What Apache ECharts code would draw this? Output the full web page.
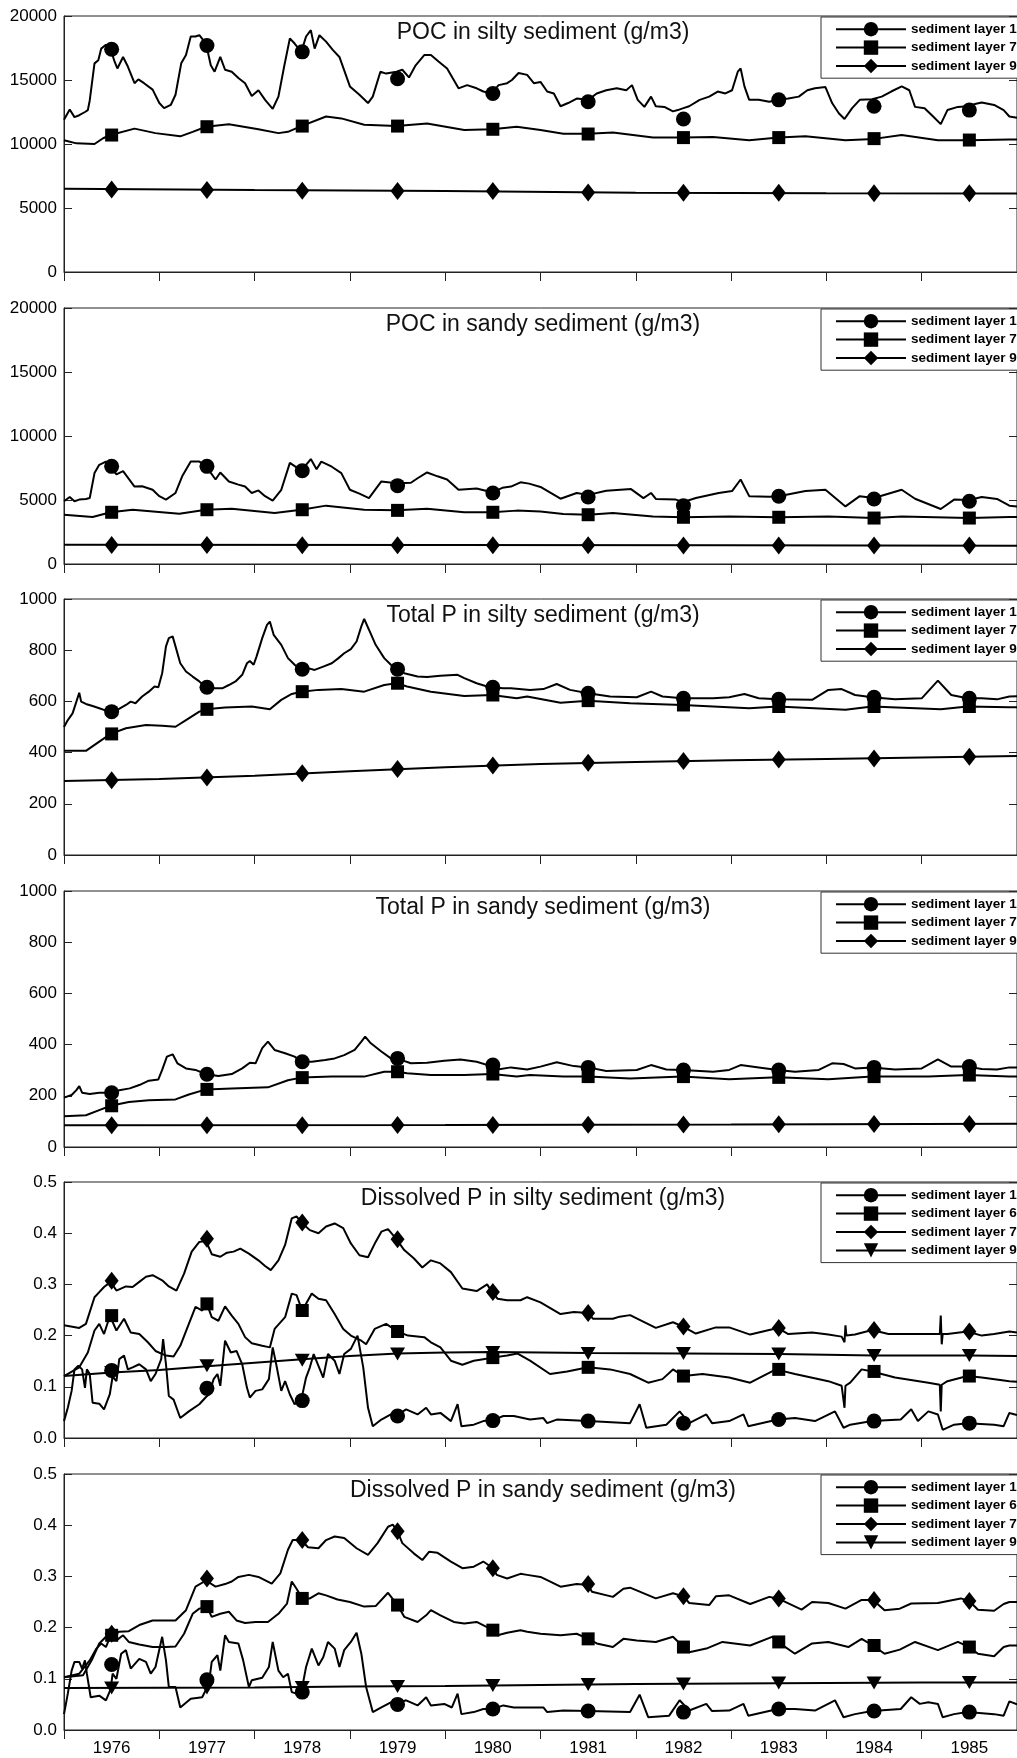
<!DOCTYPE html>
<html><head><meta charset="utf-8">
<script src="https://cdn.jsdelivr.net/npm/echarts@6/dist/echarts.min.js"></script>
<style>html,body{margin:0;padding:0;background:#fff}#c{width:1017px;height:1758px}</style>
</head><body><div id="c"></div><script>
// ---------------- DATA ----------------
const yearLabels = ['1976','1977','1978','1979','1980','1981','1982','1983','1984','1985'];
const markerYears = [1976.5,1977.5,1978.5,1979.5,1980.5,1981.5,1982.5,1983.5,1984.5,1985.5];
const titles = ['POC in silty sediment (g/m3)','POC in sandy sediment (g/m3)','Total P in silty sediment (g/m3)','Total P in sandy sediment (g/m3)','Dissolved P in silty sediment (g/m3)','Dissolved P in sandy sediment (g/m3)'];
const namesA = ['sediment layer 1','sediment layer 7','sediment layer 9'];
const namesB = ['sediment layer 1','sediment layer 6','sediment layer 7','sediment layer 9'];

// POC silty
const pocSiltyL1 = [[1976.00,11900],[1976.06,12700],[1976.11,12100],[1976.16,12250],[1976.22,12500],[1976.25,12650],[1976.27,13400],[1976.32,16300],[1976.36,16550],[1976.39,17450],[1976.44,17750],[1976.49,17400],[1976.53,16450],[1976.56,15900],[1976.62,16800],[1976.67,16050],[1976.74,14750],[1976.78,15050],[1976.84,14750],[1976.93,14250],[1977.00,13200],[1977.05,12800],[1977.12,13050],[1977.17,13850],[1977.23,16300],[1977.28,16950],[1977.33,18400],[1977.38,18400],[1977.42,18500],[1977.49,17850],[1977.54,16150],[1977.58,15650],[1977.64,16800],[1977.69,15800],[1977.76,15650],[1977.83,15150],[1977.90,14750],[1977.97,13750],[1978.04,14200],[1978.11,13450],[1978.19,12750],[1978.25,13700],[1978.31,16050],[1978.37,18250],[1978.42,17850],[1978.49,17200],[1978.54,18400],[1978.59,18900],[1978.63,17450],[1978.68,18500],[1978.75,18000],[1978.82,17350],[1978.89,16800],[1979.00,14500],[1979.10,13850],[1979.19,13200],[1979.24,13700],[1979.32,15650],[1979.38,15500],[1979.49,15650],[1979.55,15800],[1979.62,15200],[1979.69,16150],[1979.78,16950],[1979.85,16950],[1979.93,16450],[1980.02,15900],[1980.09,15000],[1980.14,14350],[1980.23,14600],[1980.33,14350],[1980.40,14100],[1980.49,13950],[1980.56,14600],[1980.65,14750],[1980.70,15000],[1980.77,15550],[1980.86,15400],[1980.93,14750],[1981.00,14850],[1981.07,14100],[1981.14,13950],[1981.21,12950],[1981.29,13200],[1981.38,13550],[1981.50,13450],[1981.59,13950],[1981.69,14200],[1981.80,14350],[1981.90,14200],[1981.96,14600],[1982.02,13450],[1982.09,12900],[1982.16,13700],[1982.21,12950],[1982.30,12900],[1982.39,12550],[1982.44,12650],[1982.50,12800],[1982.56,12950],[1982.67,13450],[1982.77,13700],[1982.86,14100],[1982.94,13950],[1983.01,14200],[1983.07,15650],[1983.10,15900],[1983.14,14500],[1983.19,13450],[1983.29,13450],[1983.40,13300],[1983.49,13450],[1983.60,13550],[1983.71,13700],[1983.80,14200],[1983.88,14350],[1983.99,14450],[1984.06,13200],[1984.13,12400],[1984.19,11950],[1984.27,12800],[1984.35,13450],[1984.48,13500],[1984.58,13700],[1984.68,14100],[1984.79,14500],[1984.87,14200],[1984.93,12900],[1985.03,12800],[1985.12,12150],[1985.20,11550],[1985.27,12650],[1985.38,12900],[1985.48,12950],[1985.57,13150],[1985.63,13250],[1985.76,13050],[1985.86,12650],[1985.92,12150],[1986.00,12050]];
const pocSiltyL1Marks = [17400,17700,17200,15100,13950,13300,11950,13450,12950,12650];
const pocSiltyL7 = [[1976.00,10300],[1976.13,10050],[1976.32,10000],[1976.41,10450],[1976.49,10700],[1976.74,11200],[1976.96,10850],[1977.22,10600],[1977.35,10950],[1977.49,11350],[1977.73,11550],[1978.04,11150],[1978.25,10850],[1978.35,10950],[1978.49,11400],[1978.75,12150],[1978.91,12000],[1979.15,11500],[1979.49,11400],[1979.81,11600],[1980.20,11100],[1980.49,11150],[1980.75,11350],[1981.00,11100],[1981.24,10800],[1981.50,10800],[1981.76,10900],[1982.18,10500],[1982.50,10500],[1982.81,10550],[1983.19,10300],[1983.50,10500],[1983.78,10600],[1984.20,10300],[1984.50,10400],[1984.79,10700],[1985.17,10300],[1985.50,10300],[1985.92,10350],[1986.00,10350]];
const pocSiltyL7Marks = [10700,11350,11400,11400,11150,10780,10500,10500,10420,10310];
const pocSiltyL9 = [[1976.00,6500],[1978.00,6400],[1980.00,6330],[1982.00,6200],[1984.00,6150],[1986.00,6130]];
const pocSiltyL9Marks = [6450,6400,6350,6330,6330,6220,6200,6200,6150,6150];

// POC sandy
const pocSandyL1 = [[1976.00,4900],[1976.06,5230],[1976.11,4900],[1976.16,5030],[1976.23,5080],[1976.27,5160],[1976.32,7100],[1976.37,7750],[1976.44,8000],[1976.49,7650],[1976.55,7000],[1976.62,7250],[1976.74,6050],[1976.82,6070],[1976.93,5800],[1977.00,5300],[1977.07,5030],[1977.17,5550],[1977.24,6850],[1977.33,8000],[1977.42,8000],[1977.49,7650],[1977.59,6600],[1977.64,7150],[1977.73,6450],[1977.83,6200],[1977.90,6050],[1977.97,5550],[1978.04,5750],[1978.11,5300],[1978.19,4950],[1978.28,5800],[1978.37,7900],[1978.49,7300],[1978.59,8200],[1978.65,7400],[1978.70,8000],[1978.81,7600],[1978.91,7100],[1979.00,5800],[1979.10,5500],[1979.20,5150],[1979.33,6450],[1979.49,6300],[1979.64,6350],[1979.71,6700],[1979.81,7150],[1979.92,6850],[1980.02,6600],[1980.14,5800],[1980.33,5900],[1980.49,5600],[1980.60,5950],[1980.69,6050],[1980.79,6380],[1980.88,6280],[1981.00,6020],[1981.21,5100],[1981.38,5550],[1981.50,5400],[1981.69,5730],[1981.95,5850],[1982.08,5150],[1982.16,5550],[1982.21,5080],[1982.42,5030],[1982.50,4850],[1982.63,5150],[1982.87,5550],[1983.01,5700],[1983.10,6600],[1983.19,5300],[1983.40,5250],[1983.50,5300],[1983.78,5700],[1983.99,5800],[1984.20,4500],[1984.35,5300],[1984.50,5150],[1984.79,5800],[1984.93,5100],[1985.20,4300],[1985.34,5030],[1985.50,5000],[1985.63,5230],[1985.79,5080],[1985.92,4560],[1986.00,4500]];
const pocSandyL1Marks = [7630,7630,7290,6120,5550,5230,4560,5290,5080,4900];
const pocSandyL7 = [[1976.00,3850],[1976.30,3670],[1976.49,4040],[1976.72,4240],[1977.21,3930],[1977.49,4240],[1977.76,4320],[1978.21,3980],[1978.49,4240],[1978.75,4560],[1979.15,4240],[1979.49,4190],[1979.81,4320],[1980.20,4040],[1980.49,4040],[1980.75,4170],[1981.00,4100],[1981.24,3910],[1981.50,3850],[1981.76,3980],[1982.18,3720],[1982.50,3650],[1982.98,3720],[1983.50,3650],[1984.02,3720],[1984.50,3600],[1984.79,3720],[1985.50,3600],[1985.92,3670],[1986.00,3670]];
const pocSandyL7Marks = [4040,4240,4240,4190,4040,3850,3650,3650,3590,3590];
const pocSandyL9 = [[1976.00,1510],[1980.00,1480],[1983.00,1460],[1986.00,1430]];
const pocSandyL9Marks = [1480,1480,1470,1470,1460,1460,1450,1450,1440,1440];

// Total P silty
const tpSiltyL1 = [[1976.00,500],[1976.04,527],[1976.09,553],[1976.13,599],[1976.16,634],[1976.18,599],[1976.23,590],[1976.30,582],[1976.37,573],[1976.44,564],[1976.49,560],[1976.56,567],[1976.65,586],[1976.70,599],[1976.75,593],[1976.82,619],[1976.89,638],[1976.95,658],[1976.99,655],[1977.03,710],[1977.07,815],[1977.10,847],[1977.14,854],[1977.17,815],[1977.22,749],[1977.28,717],[1977.35,697],[1977.42,678],[1977.49,655],[1977.57,651],[1977.66,651],[1977.73,664],[1977.80,678],[1977.87,704],[1977.92,749],[1977.95,758],[1977.99,743],[1978.02,775],[1978.08,847],[1978.13,899],[1978.16,912],[1978.20,860],[1978.28,821],[1978.35,769],[1978.42,743],[1978.49,726],[1978.56,730],[1978.63,723],[1978.72,736],[1978.81,749],[1978.88,769],[1978.94,788],[1979.01,804],[1979.07,834],[1979.12,893],[1979.15,922],[1979.20,880],[1979.27,821],[1979.36,769],[1979.43,743],[1979.49,726],[1979.57,710],[1979.71,697],[1979.81,695],[1979.95,700],[1980.13,704],[1980.20,691],[1980.33,671],[1980.44,658],[1980.49,655],[1980.61,651],[1980.69,651],[1980.89,645],[1981.03,648],[1981.17,668],[1981.31,645],[1981.50,632],[1981.73,619],[1982.01,616],[1982.16,638],[1982.28,619],[1982.49,612],[1982.81,612],[1982.98,616],[1983.14,629],[1983.29,612],[1983.49,608],[1983.85,606],[1984.02,645],[1984.16,648],[1984.30,625],[1984.48,616],[1984.72,608],[1985.00,612],[1985.17,681],[1985.31,625],[1985.48,612],[1985.63,612],[1985.79,608],[1985.92,619],[1986.00,620]];
const tpSiltyL1Marks = [560,655,726,726,655,632,612,608,616,612];
const tpSiltyL7 = [[1976.00,407],[1976.23,407],[1976.37,443],[1976.49,473],[1976.65,495],[1976.86,508],[1977.03,505],[1977.17,501],[1977.28,527],[1977.42,560],[1977.49,569],[1977.69,576],[1977.97,580],[1978.16,569],[1978.28,606],[1978.39,629],[1978.49,638],[1978.67,645],[1978.91,648],[1979.15,638],[1979.36,664],[1979.49,671],[1979.60,658],[1979.85,638],[1980.20,621],[1980.49,625],[1980.75,612],[1980.86,619],[1981.21,595],[1981.50,603],[1981.94,593],[1982.49,586],[1983.19,573],[1983.49,580],[1984.20,567],[1984.48,580],[1985.20,569],[1985.48,580],[1985.92,577],[1986.00,577]];
const tpSiltyL7Marks = [473,569,638,671,625,603,586,580,580,580];
const tpSiltyL9 = [[1976.00,289],[1977.00,297],[1978.00,310],[1979.00,327],[1980.00,343],[1981.00,355],[1982.00,363],[1983.00,370],[1984.00,375],[1985.00,381],[1986.00,387]];
const tpSiltyL9Marks = [292,303,319,336,350,360,367,373,377,384];

// Total P sandy
const tpSandyL1 = [[1976.00,193],[1976.08,203],[1976.13,222],[1976.16,238],[1976.19,212],[1976.27,207],[1976.37,212],[1976.49,212],[1976.58,222],[1976.69,229],[1976.79,242],[1976.89,259],[1976.99,264],[1977.03,301],[1977.08,353],[1977.14,362],[1977.19,327],[1977.28,307],[1977.38,301],[1977.49,284],[1977.62,277],[1977.76,285],[1977.87,307],[1977.95,329],[1978.01,327],[1978.08,386],[1978.14,412],[1978.21,379],[1978.32,366],[1978.42,353],[1978.49,333],[1978.60,333],[1978.74,340],[1978.84,346],[1978.94,359],[1979.05,379],[1979.12,412],[1979.16,431],[1979.22,405],[1979.33,373],[1979.43,346],[1979.49,346],[1979.64,327],[1979.81,329],[1979.99,337],[1980.16,342],[1980.33,333],[1980.49,315],[1980.55,303],[1980.69,311],[1980.86,303],[1981.00,314],[1981.17,331],[1981.35,316],[1981.50,311],[1981.69,297],[1982.01,301],[1982.16,320],[1982.32,303],[1982.49,301],[1982.81,294],[1982.98,301],[1983.10,320],[1983.29,311],[1983.49,301],[1983.67,294],[1983.92,301],[1984.06,327],[1984.18,324],[1984.30,307],[1984.48,311],[1984.72,303],[1985.00,307],[1985.17,342],[1985.31,314],[1985.48,314],[1985.63,305],[1985.79,303],[1985.92,311],[1986.00,311]];
const tpSandyL1Marks = [212,284,333,346,320,311,301,301,311,314];
const tpSandyL7 = [[1976.00,120],[1976.23,124],[1976.37,144],[1976.49,161],[1976.68,176],[1976.89,183],[1977.17,186],[1977.31,205],[1977.49,225],[1977.76,229],[1978.14,233],[1978.35,261],[1978.49,271],[1978.81,275],[1979.15,275],[1979.36,294],[1979.49,294],[1979.60,288],[1979.85,281],[1980.20,281],[1980.49,285],[1980.75,275],[1980.89,281],[1981.24,275],[1981.50,275],[1981.94,268],[1982.49,275],[1982.98,265],[1983.49,272],[1984.02,265],[1984.48,275],[1985.07,275],[1985.48,281],[1985.92,275],[1986.00,275]];
const tpSandyL7Marks = [161,225,271,294,285,275,275,272,275,281];
const tpSandyL9 = [[1976.00,85],[1980.00,86],[1983.00,88],[1986.00,91]];
const tpSandyL9Marks = [85,85,85,86,86,87,88,89,90,90];

// Dissolved P silty
const dpSiltyL1 = [[1976.00,0.033],[1976.04,0.059],[1976.08,0.092],[1976.11,0.134],[1976.15,0.141],[1976.19,0.134],[1976.22,0.098],[1976.24,0.134],[1976.27,0.125],[1976.30,0.069],[1976.37,0.067],[1976.42,0.056],[1976.48,0.085],[1976.51,0.120],[1976.55,0.111],[1976.58,0.154],[1976.63,0.161],[1976.67,0.134],[1976.72,0.138],[1976.79,0.144],[1976.86,0.134],[1976.91,0.111],[1976.96,0.125],[1977.02,0.154],[1977.04,0.193],[1977.07,0.144],[1977.10,0.082],[1977.15,0.075],[1977.22,0.039],[1977.31,0.052],[1977.42,0.066],[1977.49,0.080],[1977.52,0.085],[1977.57,0.115],[1977.61,0.125],[1977.64,0.102],[1977.69,0.190],[1977.75,0.167],[1977.81,0.170],[1977.87,0.144],[1977.92,0.098],[1977.95,0.079],[1978.01,0.092],[1978.08,0.095],[1978.15,0.115],[1978.19,0.177],[1978.23,0.141],[1978.28,0.092],[1978.32,0.111],[1978.37,0.085],[1978.42,0.066],[1978.49,0.075],[1978.54,0.118],[1978.58,0.138],[1978.62,0.164],[1978.67,0.141],[1978.72,0.118],[1978.77,0.164],[1978.84,0.151],[1978.89,0.125],[1978.94,0.164],[1979.01,0.174],[1979.08,0.200],[1979.14,0.138],[1979.19,0.059],[1979.24,0.023],[1979.33,0.036],[1979.43,0.046],[1979.50,0.045],[1979.59,0.056],[1979.71,0.046],[1979.80,0.059],[1979.85,0.046],[1979.95,0.049],[1980.06,0.033],[1980.13,0.066],[1980.17,0.023],[1980.30,0.026],[1980.40,0.033],[1980.50,0.035],[1980.61,0.043],[1980.72,0.043],[1980.89,0.036],[1981.03,0.039],[1981.07,0.029],[1981.17,0.036],[1981.50,0.033],[1981.94,0.029],[1982.04,0.066],[1982.11,0.020],[1982.32,0.026],[1982.46,0.052],[1982.56,0.029],[1982.74,0.046],[1982.80,0.029],[1982.98,0.033],[1983.13,0.046],[1983.18,0.023],[1983.49,0.036],[1983.67,0.039],[1983.88,0.033],[1984.09,0.052],[1984.18,0.020],[1984.25,0.026],[1984.48,0.033],[1984.78,0.036],[1984.89,0.056],[1984.96,0.033],[1985.07,0.052],[1985.17,0.046],[1985.22,0.016],[1985.34,0.026],[1985.48,0.029],[1985.76,0.026],[1985.86,0.023],[1985.92,0.049],[1986.00,0.045]];
const dpSiltyL1Marks = [0.132,0.097,0.073,0.043,0.034,0.033,0.029,0.036,0.033,0.029];
const dpSiltyL6 = [[1976.00,0.121],[1976.16,0.138],[1976.25,0.167],[1976.32,0.210],[1976.37,0.223],[1976.42,0.203],[1976.46,0.226],[1976.49,0.235],[1976.55,0.210],[1976.63,0.233],[1976.70,0.206],[1976.79,0.203],[1976.88,0.187],[1976.96,0.170],[1977.07,0.161],[1977.15,0.159],[1977.22,0.180],[1977.31,0.223],[1977.38,0.256],[1977.45,0.249],[1977.50,0.262],[1977.55,0.236],[1977.62,0.229],[1977.69,0.257],[1977.76,0.239],[1977.83,0.223],[1977.90,0.197],[1977.97,0.185],[1978.08,0.180],[1978.16,0.177],[1978.21,0.213],[1978.32,0.236],[1978.39,0.282],[1978.44,0.279],[1978.50,0.249],[1978.60,0.282],[1978.67,0.272],[1978.75,0.269],[1978.84,0.242],[1978.93,0.213],[1979.01,0.200],[1979.12,0.190],[1979.17,0.183],[1979.26,0.213],[1979.38,0.223],[1979.50,0.208],[1979.61,0.200],[1979.78,0.197],[1979.85,0.187],[1979.95,0.177],[1980.06,0.151],[1980.18,0.143],[1980.30,0.151],[1980.40,0.154],[1980.50,0.157],[1980.65,0.161],[1980.76,0.165],[1980.89,0.151],[1981.10,0.125],[1981.28,0.130],[1981.50,0.138],[1981.73,0.134],[1981.94,0.125],[1982.13,0.108],[1982.28,0.115],[1982.39,0.134],[1982.50,0.121],[1982.70,0.125],[1982.98,0.118],[1983.20,0.108],[1983.47,0.134],[1983.67,0.125],[1984.02,0.111],[1984.16,0.102],[1984.19,0.059],[1984.20,0.102],[1984.25,0.108],[1984.37,0.134],[1984.48,0.130],[1984.72,0.118],[1985.07,0.108],[1985.19,0.104],[1985.20,0.052],[1985.21,0.104],[1985.27,0.111],[1985.48,0.121],[1985.63,0.118],[1985.92,0.111],[1986.00,0.110]];
const dpSiltyL6Marks = [0.239,0.262,0.249,0.208,0.157,0.138,0.121,0.134,0.130,0.121];
const dpSiltyL7 = [[1976.00,0.220],[1976.16,0.215],[1976.23,0.223],[1976.32,0.275],[1976.37,0.285],[1976.42,0.295],[1976.49,0.305],[1976.55,0.288],[1976.65,0.296],[1976.72,0.295],[1976.79,0.305],[1976.86,0.315],[1976.93,0.318],[1977.03,0.308],[1977.10,0.296],[1977.18,0.288],[1977.26,0.321],[1977.34,0.364],[1977.42,0.383],[1977.49,0.385],[1977.55,0.359],[1977.64,0.354],[1977.71,0.362],[1977.78,0.364],[1977.85,0.370],[1977.94,0.360],[1978.04,0.347],[1978.11,0.336],[1978.17,0.328],[1978.25,0.347],[1978.32,0.377],[1978.39,0.429],[1978.44,0.433],[1978.49,0.421],[1978.58,0.406],[1978.67,0.400],[1978.75,0.413],[1978.84,0.419],[1978.93,0.410],[1979.01,0.380],[1979.10,0.357],[1979.19,0.353],[1979.27,0.383],[1979.33,0.403],[1979.40,0.408],[1979.49,0.388],[1979.57,0.367],[1979.67,0.351],[1979.76,0.333],[1979.85,0.347],[1979.95,0.341],[1980.06,0.324],[1980.18,0.292],[1980.33,0.287],[1980.44,0.300],[1980.49,0.285],[1980.55,0.272],[1980.65,0.269],[1980.79,0.269],[1980.86,0.275],[1981.00,0.265],[1981.21,0.242],[1981.35,0.246],[1981.50,0.244],[1981.55,0.233],[1981.76,0.233],[1981.83,0.237],[1981.94,0.240],[1982.21,0.215],[1982.39,0.226],[1982.49,0.218],[1982.63,0.204],[1982.84,0.216],[1982.98,0.216],[1983.20,0.202],[1983.40,0.211],[1983.49,0.215],[1983.60,0.203],[1983.85,0.206],[1984.02,0.202],[1984.16,0.198],[1984.19,0.187],[1984.20,0.220],[1984.21,0.200],[1984.30,0.202],[1984.48,0.211],[1984.65,0.203],[1985.07,0.203],[1985.19,0.203],[1985.20,0.239],[1985.21,0.183],[1985.22,0.203],[1985.27,0.203],[1985.48,0.208],[1985.63,0.200],[1985.76,0.203],[1985.92,0.208],[1986.00,0.206]];
const dpSiltyL7Marks = [0.307,0.389,0.421,0.388,0.285,0.244,0.218,0.215,0.211,0.208];
const dpSiltyL9 = [[1976.00,0.121],[1976.50,0.128],[1977.00,0.133],[1977.50,0.140],[1978.00,0.147],[1978.50,0.154],[1979.00,0.160],[1979.50,0.165],[1980.00,0.167],[1980.50,0.168],[1981.50,0.166],[1982.50,0.165],[1983.50,0.164],[1984.50,0.161],[1985.50,0.161],[1986.00,0.160]];
const dpSiltyL9Marks = [0.128,0.141,0.152,0.164,0.167,0.165,0.165,0.164,0.161,0.161];

// Dissolved P sandy
const dpSandyL1 = [[1976.00,0.031],[1976.04,0.071],[1976.08,0.116],[1976.11,0.133],[1976.16,0.133],[1976.19,0.120],[1976.22,0.136],[1976.24,0.110],[1976.28,0.064],[1976.37,0.067],[1976.44,0.058],[1976.49,0.080],[1976.51,0.110],[1976.55,0.100],[1976.60,0.149],[1976.65,0.156],[1976.70,0.120],[1976.79,0.139],[1976.86,0.133],[1976.91,0.110],[1976.96,0.123],[1977.03,0.182],[1977.07,0.136],[1977.10,0.084],[1977.17,0.084],[1977.22,0.044],[1977.33,0.061],[1977.45,0.064],[1977.52,0.090],[1977.55,0.133],[1977.61,0.146],[1977.64,0.116],[1977.69,0.185],[1977.73,0.172],[1977.83,0.169],[1977.88,0.136],[1977.94,0.084],[1977.97,0.097],[1978.08,0.102],[1978.15,0.123],[1978.19,0.172],[1978.25,0.116],[1978.30,0.103],[1978.35,0.110],[1978.39,0.074],[1978.44,0.071],[1978.49,0.074],[1978.54,0.123],[1978.60,0.159],[1978.67,0.126],[1978.72,0.142],[1978.77,0.172],[1978.84,0.159],[1978.89,0.123],[1978.94,0.156],[1979.01,0.172],[1979.07,0.190],[1979.12,0.149],[1979.17,0.084],[1979.24,0.035],[1979.33,0.044],[1979.43,0.054],[1979.50,0.052],[1979.59,0.058],[1979.71,0.048],[1979.80,0.064],[1979.85,0.048],[1979.99,0.051],[1980.07,0.044],[1980.13,0.071],[1980.17,0.031],[1980.30,0.035],[1980.40,0.041],[1980.50,0.041],[1980.61,0.048],[1980.72,0.044],[1980.89,0.044],[1981.03,0.044],[1981.07,0.035],[1981.24,0.038],[1981.50,0.037],[1981.94,0.035],[1982.04,0.069],[1982.13,0.025],[1982.35,0.028],[1982.46,0.058],[1982.56,0.038],[1982.74,0.051],[1982.80,0.037],[1982.98,0.038],[1983.13,0.051],[1983.18,0.028],[1983.49,0.041],[1983.67,0.041],[1983.88,0.038],[1984.09,0.058],[1984.18,0.025],[1984.30,0.031],[1984.48,0.037],[1984.78,0.041],[1984.89,0.064],[1984.98,0.051],[1985.07,0.054],[1985.17,0.051],[1985.22,0.025],[1985.34,0.031],[1985.48,0.035],[1985.76,0.031],[1985.86,0.028],[1985.92,0.056],[1986.00,0.050]];
const dpSandyL1Marks = [0.128,0.098,0.074,0.050,0.041,0.037,0.035,0.041,0.037,0.035];
const dpSandyL6 = [[1976.00,0.103],[1976.16,0.110],[1976.27,0.136],[1976.34,0.159],[1976.39,0.169],[1976.44,0.162],[1976.49,0.185],[1976.55,0.175],[1976.62,0.185],[1976.68,0.172],[1976.79,0.167],[1976.93,0.162],[1977.07,0.162],[1977.17,0.163],[1977.26,0.188],[1977.35,0.227],[1977.42,0.237],[1977.50,0.241],[1977.55,0.221],[1977.64,0.227],[1977.73,0.231],[1977.81,0.214],[1977.90,0.209],[1978.01,0.211],[1978.14,0.211],[1978.25,0.227],[1978.34,0.247],[1978.39,0.290],[1978.44,0.276],[1978.50,0.257],[1978.58,0.257],[1978.67,0.267],[1978.75,0.263],[1978.87,0.255],[1979.00,0.250],[1979.15,0.241],[1979.27,0.242],[1979.40,0.268],[1979.50,0.244],[1979.57,0.221],[1979.71,0.211],[1979.80,0.224],[1979.85,0.234],[1979.95,0.224],[1980.09,0.211],[1980.20,0.208],[1980.33,0.211],[1980.50,0.195],[1980.55,0.185],[1980.65,0.190],[1980.79,0.195],[1980.86,0.192],[1981.00,0.188],[1981.21,0.185],[1981.38,0.188],[1981.50,0.178],[1981.59,0.169],[1981.76,0.162],[1981.87,0.178],[1982.01,0.175],[1982.21,0.172],[1982.39,0.182],[1982.50,0.162],[1982.56,0.152],[1982.74,0.159],[1982.91,0.172],[1983.20,0.165],[1983.43,0.182],[1983.49,0.172],[1983.67,0.149],[1983.85,0.169],[1984.02,0.172],[1984.23,0.162],[1984.37,0.178],[1984.49,0.165],[1984.61,0.149],[1984.77,0.157],[1984.93,0.172],[1985.17,0.156],[1985.38,0.172],[1985.50,0.162],[1985.59,0.149],[1985.76,0.144],[1985.86,0.162],[1985.92,0.165],[1986.00,0.165]];
const dpSandyL6Marks = [0.185,0.241,0.257,0.244,0.195,0.178,0.162,0.172,0.165,0.162];
const dpSandyL7 = [[1976.00,0.103],[1976.20,0.107],[1976.29,0.136],[1976.37,0.169],[1976.44,0.182],[1976.49,0.188],[1976.58,0.192],[1976.68,0.193],[1976.79,0.205],[1976.93,0.214],[1977.07,0.214],[1977.17,0.214],[1977.28,0.234],[1977.38,0.280],[1977.49,0.292],[1977.59,0.280],[1977.69,0.285],[1977.76,0.290],[1977.83,0.299],[1977.94,0.303],[1978.04,0.299],[1978.18,0.286],[1978.27,0.306],[1978.35,0.352],[1978.40,0.371],[1978.49,0.371],[1978.56,0.357],[1978.67,0.355],[1978.75,0.371],[1978.84,0.378],[1978.94,0.375],[1979.07,0.355],[1979.19,0.342],[1979.29,0.365],[1979.40,0.397],[1979.45,0.401],[1979.50,0.388],[1979.55,0.365],[1979.67,0.345],[1979.76,0.332],[1979.83,0.348],[1979.92,0.346],[1980.06,0.329],[1980.18,0.316],[1980.30,0.319],[1980.40,0.329],[1980.50,0.316],[1980.54,0.303],[1980.65,0.296],[1980.79,0.305],[1980.86,0.303],[1981.00,0.299],[1981.21,0.280],[1981.38,0.285],[1981.50,0.283],[1981.54,0.270],[1981.76,0.260],[1981.87,0.276],[1981.94,0.278],[1982.21,0.257],[1982.39,0.267],[1982.50,0.261],[1982.56,0.248],[1982.77,0.244],[1982.84,0.261],[1982.98,0.263],[1983.20,0.246],[1983.40,0.260],[1983.49,0.257],[1983.74,0.235],[1983.85,0.250],[1984.02,0.248],[1984.20,0.237],[1984.37,0.254],[1984.49,0.254],[1984.61,0.234],[1984.77,0.237],[1984.89,0.247],[1985.17,0.248],[1985.41,0.257],[1985.50,0.252],[1985.59,0.235],[1985.76,0.233],[1985.86,0.246],[1985.92,0.250],[1986.00,0.250]];
const dpSandyL7Marks = [0.188,0.296,0.371,0.388,0.316,0.285,0.261,0.257,0.254,0.252];
const dpSandyL9 = [[1976.00,0.082],[1978.00,0.083],[1979.00,0.085],[1980.00,0.086],[1981.00,0.088],[1982.00,0.090],[1983.00,0.091],[1984.00,0.092],[1985.00,0.093],[1986.00,0.093]];
const dpSandyL9Marks = [0.082,0.082,0.083,0.085,0.087,0.089,0.090,0.092,0.092,0.093];

// ---------------- CHART ----------------
const FONT = '"Liberation Sans", Arial, Helvetica, sans-serif';
const SYM = {circle:'circle', square:'rect', diamond:'diamond', tri:'path://M-7.5,-6.5L7.5,-6.5L0,6.5Z'};
const SIZE = {circle:15, square:13, diamond:[14,18], tri:[15,13]};

const panels = [
  {title:titles[0], max:20000, step:5000, dec:0, names:namesA, syms:['circle','square','diamond'], lines:[pocSiltyL1,pocSiltyL7,pocSiltyL9], marks:[pocSiltyL1Marks,pocSiltyL7Marks,pocSiltyL9Marks]},
  {title:titles[1], max:20000, step:5000, dec:0, names:namesA, syms:['circle','square','diamond'], lines:[pocSandyL1,pocSandyL7,pocSandyL9], marks:[pocSandyL1Marks,pocSandyL7Marks,pocSandyL9Marks]},
  {title:titles[2], max:1000, step:200, dec:0, names:namesA, syms:['circle','square','diamond'], lines:[tpSiltyL1,tpSiltyL7,tpSiltyL9], marks:[tpSiltyL1Marks,tpSiltyL7Marks,tpSiltyL9Marks]},
  {title:titles[3], max:1000, step:200, dec:0, names:namesA, syms:['circle','square','diamond'], lines:[tpSandyL1,tpSandyL7,tpSandyL9], marks:[tpSandyL1Marks,tpSandyL7Marks,tpSandyL9Marks]},
  {title:titles[4], max:0.5, step:0.1, dec:1, names:namesB, syms:['circle','square','diamond','tri'], lines:[dpSiltyL1,dpSiltyL6,dpSiltyL7,dpSiltyL9], marks:[dpSiltyL1Marks,dpSiltyL6Marks,dpSiltyL7Marks,dpSiltyL9Marks]},
  {title:titles[5], max:0.5, step:0.1, dec:1, names:namesB, syms:['circle','square','diamond','tri'], lines:[dpSandyL1,dpSandyL6,dpSandyL7,dpSandyL9], marks:[dpSandyL1Marks,dpSandyL6Marks,dpSandyL7Marks,dpSandyL9Marks]}
];
const panelTops = [16, 308, 599, 891, 1182, 1474];
const AX = '#222';

const option = {animation:false, backgroundColor:'#fff', title:[], grid:[], xAxis:[], yAxis:[], legend:[], series:[]};
panels.forEach((p, i) => {
  const top = panelTops[i];
  option.grid.push({left:64, top:top, width:959, height:256, show:true, borderColor:AX, borderWidth:1, backgroundColor:'transparent'});
  option.title.push({text:p.title, left:543, top:top+5, textAlign:'center', padding:0,
    textStyle:{fontFamily:FONT, fontSize:23, fontWeight:'normal', color:'#111'}});
  option.xAxis.push({type:'value', gridIndex:i, min:1976, max:1986, interval:1,
    axisLine:{show:true, onZero:false, lineStyle:{color:AX, width:1}},
    axisTick:{show:true, inside:false, length:9, lineStyle:{color:AX, width:1}},
    axisLabel:{show:false}, splitLine:{show:false}});
  const fmt = v => p.dec ? v.toFixed(p.dec) : String(v);
  option.yAxis.push({type:'value', gridIndex:i, position:'left', min:0, max:p.max, interval:p.step,
    axisLine:{show:true, onZero:false, lineStyle:{color:AX, width:1}},
    axisTick:{show:true, inside:true, length:8, lineStyle:{color:AX, width:1}},
    axisLabel:{fontFamily:FONT, fontSize:17, color:'#000', margin:7, formatter:fmt},
    splitLine:{show:false}});
  option.yAxis.push({type:'value', gridIndex:i, position:'right', min:0, max:p.max, interval:p.step,
    axisLine:{show:true, onZero:false, lineStyle:{color:AX, width:1}},
    axisTick:{show:true, inside:true, length:8, lineStyle:{color:AX, width:1}},
    axisLabel:{show:false}, splitLine:{show:false}});
  const legendData = [];
  p.names.forEach((nm, k) => {
    const sname = nm + '#' + i;
    legendData.push(sname);
    const sym = p.syms[k];
    option.series.push({type:'line', name:sname, xAxisIndex:i, yAxisIndex:2*i, data:p.lines[k],
      showSymbol:false, symbol:SYM[sym], symbolSize:SIZE[sym],
      lineStyle:{color:'#000', width:2}, itemStyle:{color:'#000'}, z:2, silent:true});
    option.series.push({type:'scatter', name:'marks' + i + '_' + k, xAxisIndex:i, yAxisIndex:2*i,
      data:markerYears.map((x, j) => [x, p.marks[k][j]]),
      symbol:SYM[sym], symbolSize:SIZE[sym],
      itemStyle:{color:'#000', opacity:1}, z:3, silent:true});
  });
  option.legend.push({data:legendData, left:821, top:top+1, orient:'vertical',
    itemWidth:70, itemHeight:18, itemGap:4, padding:[5,14,5,14],
    borderColor:'#333', borderWidth:1, backgroundColor:'#fff', selectedMode:false,
    formatter: n => n.split('#')[0],
    textStyle:{fontFamily:FONT, fontSize:13.5, fontWeight:'bold', color:'#000'}});
});
// year labels (centred between yearly ticks) for the bottom panel
option.xAxis.push({type:'category', gridIndex:5, position:'bottom', data:yearLabels, boundaryGap:true,
  axisLine:{show:false}, axisTick:{show:false},
  axisLabel:{fontFamily:FONT, fontSize:17, color:'#000', margin:10}, splitLine:{show:false}});

const chart = echarts.init(document.getElementById('c'), null, {renderer:'canvas'});
chart.setOption(option);
</script></body></html>
